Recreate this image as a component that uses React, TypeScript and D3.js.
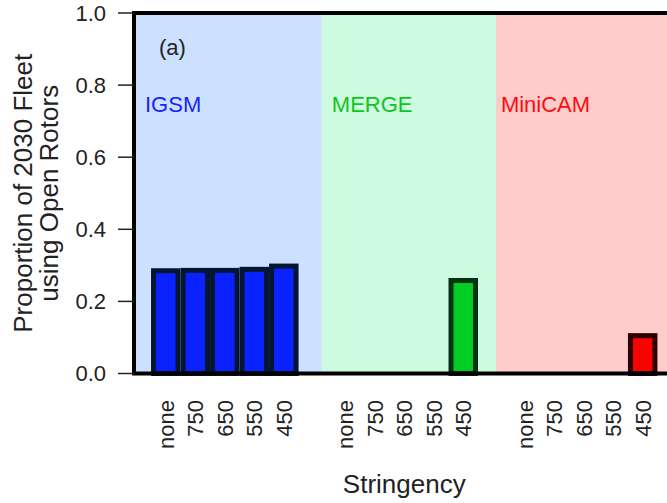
import React from "react";
import * as d3 from "d3";

const groups = ["IGSM", "MERGE", "MiniCAM"];
const stringency = ["none", "750", "650", "550", "450"];
const igsmValues = [0.285, 0.286, 0.286, 0.289, 0.298];
const mergeValues = [0, 0, 0, 0, 0.258];
const minicamValues = [0, 0, 0, 0, 0.105];
const yTicks = [0, 0.2, 0.4, 0.6, 0.8, 1.0];
const panelLabel = "(a)";
const yTitleLines = ["Proportion of 2030 Fleet", "using Open Rotors"];
const xTitle = "Stringency";

const seriesValues = [igsmValues, mergeValues, minicamValues];
const panelFill = ["#cce0ff", "#ccfbdf", "#ffcccc"];
const barFill = ["#0a22ff", "#00cc22", "#ff0000"];
const barStroke = ["#031530", "#033216", "#2a0202"];
const labelColor = ["#1a22ff", "#11c422", "#ff0a0a"];
const labelOffset = [11, 10, 5];
const gapFraction = [0.73, 0.56];

const FONT = "'Liberation Sans', Arial, Helvetica, sans-serif";

export default function App() {
  const W = 667;
  const H = 503;
  const left = 134;
  const right = 674.5;
  const y = d3.scaleLinear().domain([0, 1]).range([373.5, 13]);
  const outer = d3
    .scaleBand<string>()
    .domain(groups)
    .range([left, right])
    .paddingInner(0.178)
    .paddingOuter(0.095);
  const inner = d3
    .scaleBand<string>()
    .domain(stringency)
    .range([0, outer.bandwidth()])
    .padding(0);
  const bw = inner.bandwidth();

  const bounds: number[] = [left];
  for (let g = 0; g < groups.length - 1; g++) {
    const end = (outer(groups[g]) as number) + outer.bandwidth();
    const start = outer(groups[g + 1]) as number;
    bounds.push(end + (start - end) * gapFraction[g]);
  }
  bounds.push(right);

  const y0 = y(0);
  const y1 = y(1);

  return (
    <svg
      width={W}
      height={H}
      style={{ position: "absolute", left: 0, top: 0, background: "#fff" }}
      fontFamily={FONT}
    >
      {groups.map((g, i) => (
        <rect
          key={"p" + g}
          x={bounds[i]}
          y={y1}
          width={bounds[i + 1] - bounds[i]}
          height={y0 - y1}
          fill={panelFill[i]}
        />
      ))}
      {groups.map((g, gi) =>
        stringency.map((s, si) => {
          const v = seriesValues[gi][si];
          if (!v) return null;
          const bx = (outer(g) as number) + (inner(s) as number);
          return (
            <rect
              key={g + s}
              x={bx + 2.5}
              y={y(v)}
              width={bw - 5}
              height={y0 - y(v)}
              fill={barFill[gi]}
              stroke={barStroke[gi]}
              strokeWidth={5}
            />
          );
        })
      )}
      <path
        d={`M${right},${y1} L${left},${y1} L${left},${y0} L${right},${y0}`}
        fill="none"
        stroke="#000"
        strokeWidth={4}
      />
      {yTicks.map((t) => (
        <g key={"t" + t}>
          <line x1={118} x2={left} y1={y(t)} y2={y(t)} stroke="#222" strokeWidth={1.5} />
          <text
            x={106}
            y={y(t)}
            dy="0.36em"
            textAnchor="end"
            fontSize={22}
            fill="#222"
          >
            {d3.format(".1f")(t)}
          </text>
        </g>
      ))}
      {groups.map((g) =>
        stringency.map((s) => {
          const cx = (outer(g) as number) + (inner(s) as number) + bw / 2;
          return (
            <text
              key={"x" + g + s}
              transform={`translate(${cx},400) rotate(-90)`}
              dy="0.36em"
              textAnchor="end"
              fontSize={22}
              fill="#222"
            >
              {s}
            </text>
          );
        })
      )}
      {groups.map((g, i) => (
        <text
          key={"l" + g}
          x={bounds[i] + labelOffset[i]}
          y={111.5}
          fontSize={22}
          fill={labelColor[i]}
        >
          {g}
        </text>
      ))}
      <text x={159} y={55} fontSize={22} fill="#222">
        {panelLabel}
      </text>
      <text transform={`translate(32,${(y0 + y1) / 2}) rotate(-90)`} textAnchor="middle" fontSize={26} fill="#222">
        {yTitleLines[0]}
      </text>
      <text transform={`translate(58,${(y0 + y1) / 2}) rotate(-90)`} textAnchor="middle" fontSize={26} fill="#222">
        {yTitleLines[1]}
      </text>
      <text x={(left + right) / 2} y={493} textAnchor="middle" fontSize={26} fill="#222">
        {xTitle}
      </text>
    </svg>
  );
}
